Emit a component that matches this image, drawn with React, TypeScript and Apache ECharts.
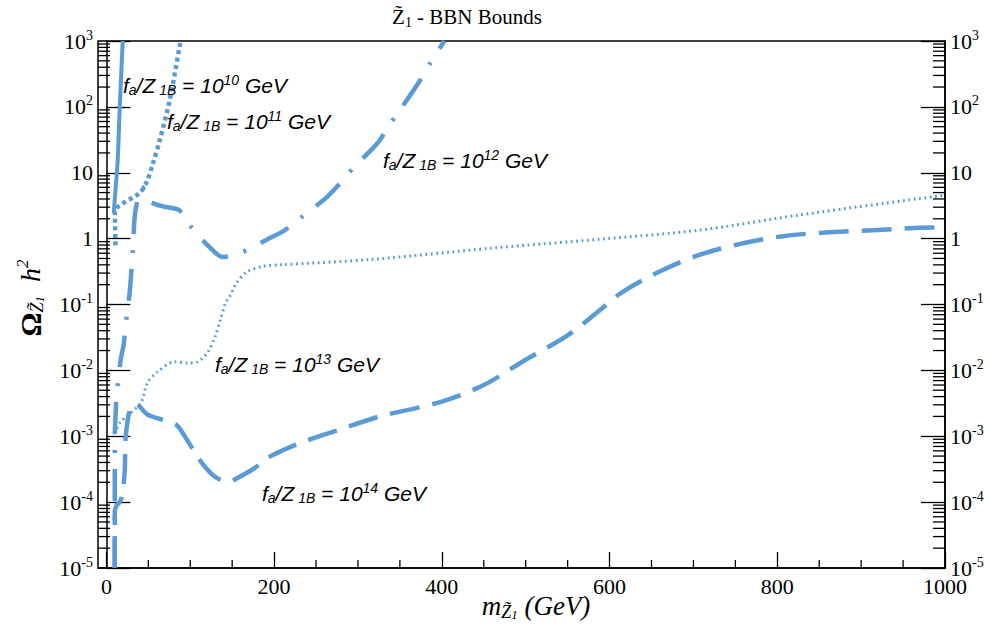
import React, { useEffect, useRef } from "react";
import * as echarts from "echarts";

// Neutralino mass m (GeV) and relic density Omega h^2, one pair of arrays per f_a/Z_1B
const massFa1e10 = [8.8, 11.1, 13.5, 15.9, 19.5];
const omegaFa1e10 = [2.45, 6.0, 15.5, 95, 1000];

const massFa1e11 = [10.8, 10.2, 40, 48, 55, 63.6, 75.5, 87.5, 88.7];
const omegaFa1e11 = [0.79, 2.5, 5.0, 7.2, 13.2, 31, 126, 850, 1000];

const massFa1e12 = [10, 10, 10, 11, 12.3, 17, 20.6, 23, 27.8, 31.4, 33.8, 38.5, 43, 49, 55, 61, 71, 87, 99, 123, 139, 159, 195, 213, 231, 263, 280, 294, 324, 336, 350, 374, 386, 403];
const omegaFa1e12 = [1e-5, 1.55e-4, 9.8e-4, 2.14e-3, 4.3e-3, 0.0145, 0.0245, 0.049, 0.155, 0.63, 2.14, 4.57, 6.0, 3.8, 3.47, 3.24, 3.02, 2.69, 1.62, 0.74, 0.525, 0.6, 1.02, 1.35, 2.04, 4.27, 7.24, 11.7, 28.8, 50, 89, 251, 457, 1000];

const massFa1e13 = [10, 16, 24, 41, 49, 61, 81.5, 97, 109, 121, 129, 136, 142, 147, 155.5, 167, 186.5, 207, 314, 461, 589, 708, 827, 1000];
const omegaFa1e13 = [1.1e-3, 1.6e-3, 2.0e-3, 3.2e-3, 6.5e-3, 9.5e-3, 0.0135, 0.0129, 0.0135, 0.019, 0.031, 0.059, 0.105, 0.132, 0.214, 0.309, 0.38, 0.40, 0.48, 0.72, 0.98, 1.35, 2.29, 4.57];

const massFa1e14 = [10, 10, 12.3, 15.9, 18.3, 21.8, 23, 29, 35, 49, 83, 91, 109, 117, 129, 145, 153, 177, 192, 231, 278, 326, 398, 450, 500, 550, 589, 613, 656, 706, 759, 809, 867, 920, 986, 1000];
const omegaFa1e14 = [1e-5, 7.2e-5, 8.9e-5, 1.0e-4, 1.2e-4, 2.8e-4, 9.8e-4, 2.8e-3, 3.1e-3, 2.14e-3, 1.5e-3, 1.12e-3, 4.8e-4, 3.5e-4, 2.45e-4, 2.0e-4, 2.2e-4, 3.3e-4, 4.7e-4, 7.9e-4, 1.26e-3, 2.0e-3, 3.3e-3, 6.0e-3, 0.0145, 0.034, 0.083, 0.148, 0.30, 0.56, 0.85, 1.10, 1.26, 1.35, 1.48, 1.48];

// Axis ticks
const xMajorTicks = [0, 200, 400, 600, 800, 1000];
const xMinorTicks = [50, 100, 150, 250, 300, 350, 450, 500, 550, 650, 700, 750, 850, 900, 950];
const yDecades = [-5, -4, -3, -2, -1, 0, 1, 2];
const yMinorSteps = [2, 3, 4, 5, 6, 7, 8, 9];

// Curve annotations: exponent of f_a/Z_1B and label anchor (px)
const labelExponents = ["10", "11", "12", "13", "14"];
const labelLeft = [123, 167, 383, 215, 262];
const labelMid = [85, 121, 160, 364, 493];

const SERIF = "Liberation Serif";
const SANS = "Liberation Sans";
const CURVE = "#5b9bd5";

const pairs = (xs: number[], ys: number[]) => xs.map((x, i) => [x, ys[i]]);

const yMinorTicks: number[] = [];
yDecades.forEach((d) => yMinorSteps.forEach((s) => yMinorTicks.push(s * Math.pow(10, d))));

const yLabel = (v: number) => {
  const e = Math.round(Math.log10(v));
  if (e === 0) return "{b|1}";
  if (e === 1) return "{b|10}";
  return `{b|10}{s|${e}}`;
};

const tickRich = {
  b: { fontFamily: SERIF, fontSize: 22, lineHeight: 26, color: "#000" },
  s: { fontFamily: SERIF, fontSize: 14, lineHeight: 14, verticalAlign: "top", color: "#000" },
};

const X_MIN = -10;
const X_MAX = 1000;

function lineSeries(name: string, xs: number[], ys: number[], width: number, type: any) {
  return {
    name,
    type: "line",
    data: pairs(xs, ys),
    symbol: "none",
    showSymbol: false,
    smooth: 0.3,
    z: 3,
    lineStyle: { color: CURVE, width, type, cap: "butt", join: "round" },
  };
}

const annotationRich = {
  i: { fontFamily: SANS, fontStyle: "italic", fontSize: 21, lineHeight: 24, fill: "#000", color: "#000" },
  sub: { fontFamily: SANS, fontStyle: "italic", fontSize: 14, lineHeight: 14, verticalAlign: "bottom", fill: "#000", color: "#000" },
  sup: { fontFamily: SANS, fontStyle: "italic", fontSize: 14, lineHeight: 14, verticalAlign: "top", fill: "#000", color: "#000" },
};

const annotations = labelExponents.map((exp, k) => ({
  type: "text",
  x: labelLeft[k],
  y: labelMid[k],
  z: 10,
  style: {
    text: `{i|f}{sub|a}{i|/Z}{sub| 1B}{i| = 10}{sup|${exp}}{i| GeV}`,
    rich: annotationRich,
    fill: "#000",
    align: "left",
    textAlign: "left",
    verticalAlign: "middle",
    textVerticalAlign: "middle",
  },
}));

const option: any = {
  animation: false,
  backgroundColor: "#fff",
  grid: { left: 98, top: 41, right: 45, bottom: 73, show: true, borderColor: "#000", borderWidth: 1.5, backgroundColor: "transparent" },
  xAxis: {
    type: "value",
    min: X_MIN,
    max: X_MAX,
    splitLine: { show: false },
    axisLine: { show: true, lineStyle: { color: "#000", width: 1.5 } },
    axisTick: { show: true, inside: true, length: 16, customValues: xMajorTicks, lineStyle: { color: "#000", width: 1.3 } },
    axisLabel: {
      show: true,
      customValues: xMajorTicks,
      margin: 7,
      fontFamily: SERIF,
      fontSize: 22,
      color: "#000",
      formatter: (v: number) => String(v),
    },
  },
  yAxis: [
    {
      type: "log",
      logBase: 10,
      min: 1e-5,
      max: 1e3,
      interval: 1,
      position: "left",
      splitLine: { show: false },
      axisLine: { show: true, lineStyle: { color: "#000", width: 1.5 } },
      axisTick: { show: true, inside: true, length: 24, lineStyle: { color: "#000", width: 1.3 } },
      axisLabel: { show: true, margin: 5, formatter: yLabel, rich: tickRich },
    },
    {
      type: "log",
      logBase: 10,
      min: 1e-5,
      max: 1e3,
      interval: 1,
      position: "right",
      splitLine: { show: false },
      axisLine: { show: true, lineStyle: { color: "#000", width: 1.5 } },
      axisTick: { show: true, inside: true, length: 24, lineStyle: { color: "#000", width: 1.3 } },
      axisLabel: { show: true, margin: 5, formatter: yLabel, rich: tickRich },
    },
  ],
  series: [
    {
      type: "custom",
      coordinateSystem: "cartesian2d",
      xAxisIndex: 0,
      yAxisIndex: 0,
      silent: true,
      z: 5,
      data: yMinorTicks.map((v) => [0, v]),
      renderItem: (params: any, api: any) => {
        const cs = params.coordSys;
        const y = api.coord([0, api.value(1)])[1];
        return {
          type: "group",
          children: [
            { type: "line", shape: { x1: cs.x, y1: y, x2: cs.x + 12, y2: y }, style: { stroke: "#000", lineWidth: 1.3 } },
            { type: "line", shape: { x1: cs.x + cs.width - 12, y1: y, x2: cs.x + cs.width, y2: y }, style: { stroke: "#000", lineWidth: 1.3 } },
          ],
        };
      },
    },
    {
      type: "custom",
      coordinateSystem: "cartesian2d",
      xAxisIndex: 0,
      yAxisIndex: 0,
      silent: true,
      z: 5,
      data: xMinorTicks.map((v) => [v, 1]),
      renderItem: (params: any, api: any) => {
        const cs = params.coordSys;
        const x = api.coord([api.value(0), 1])[0];
        const yb = cs.y + cs.height;
        return { type: "line", shape: { x1: x, y1: yb, x2: x, y2: yb - 8 }, style: { stroke: "#000", lineWidth: 1.3 } };
      },
    },
    lineSeries("1e10", massFa1e10, omegaFa1e10, 4, "solid"),
    lineSeries("1e11", massFa1e11, omegaFa1e11, 4.5, [4, 3.5]),
    lineSeries("1e12", massFa1e12, omegaFa1e12, 4.5, [32, 16, 3, 16]),
    lineSeries("1e13", massFa1e13, omegaFa1e13, 3, [1.8, 3.6]),
    lineSeries("1e14", massFa1e14, omegaFa1e14, 4.5, [30, 13]),
  ],
  graphic: [
    {
      type: "text",
      x: 467,
      y: 17,
      style: {
        text: "{t|Z\u0303}{s|1}{t| - BBN Bounds}",
        rich: {
          t: { fontFamily: SERIF, fontSize: 21, lineHeight: 24, fill: "#000", color: "#000" },
          s: { fontFamily: SERIF, fontSize: 14, lineHeight: 14, verticalAlign: "bottom", fill: "#000", color: "#000" },
        },
        align: "center",
        textAlign: "center",
        verticalAlign: "middle",
        textVerticalAlign: "middle",
      },
    },
    {
      type: "text",
      x: 536,
      y: 606,
      style: {
        text: "{m|m}{s|Z\u0303}{ss|1}{m| (GeV)}",
        rich: {
          m: { fontFamily: SERIF, fontStyle: "italic", fontSize: 27, lineHeight: 30, fill: "#000", color: "#000" },
          s: { fontFamily: SERIF, fontStyle: "italic", fontSize: 18, lineHeight: 18, verticalAlign: "bottom", fill: "#000", color: "#000" },
          ss: { fontFamily: SERIF, fontStyle: "italic", fontSize: 13, lineHeight: 10, verticalAlign: "bottom", fill: "#000", color: "#000" },
        },
        align: "center",
        textAlign: "center",
        verticalAlign: "middle",
        textVerticalAlign: "middle",
      },
    },
    {
      type: "text",
      x: 30,
      y: 298,
      rotation: Math.PI / 2,
      style: {
        text: "{o|\u03A9}{s|Z\u0303}{ss|1}{h|  h}{p|2}",
        rich: {
          o: { fontFamily: SERIF, fontWeight: "bold", fontSize: 30, lineHeight: 32, fill: "#000", color: "#000" },
          s: { fontFamily: SERIF, fontStyle: "italic", fontSize: 18, lineHeight: 18, verticalAlign: "bottom", fill: "#000", color: "#000" },
          ss: { fontFamily: SERIF, fontStyle: "italic", fontSize: 13, lineHeight: 10, verticalAlign: "bottom", fill: "#000", color: "#000" },
          h: { fontFamily: SERIF, fontStyle: "italic", fontSize: 28, lineHeight: 32, fill: "#000", color: "#000" },
          p: { fontFamily: SERIF, fontStyle: "italic", fontSize: 17, lineHeight: 17, verticalAlign: "top", fill: "#000", color: "#000" },
        },
        align: "center",
        textAlign: "center",
        verticalAlign: "middle",
        textVerticalAlign: "middle",
      },
    },
    ...annotations,
  ],
};

export default function App() {
  const ref = useRef<HTMLDivElement>(null);
  useEffect(() => {
    if (!ref.current) return;
    const chart = echarts.init(ref.current, null, { renderer: "svg" });
    chart.setOption(option);
    return () => chart.dispose();
  }, []);
  return (
    <div
      ref={ref}
      style={{ position: "fixed", left: 0, top: 0, width: 990, height: 641, background: "#fff" }}
    />
  );
}
